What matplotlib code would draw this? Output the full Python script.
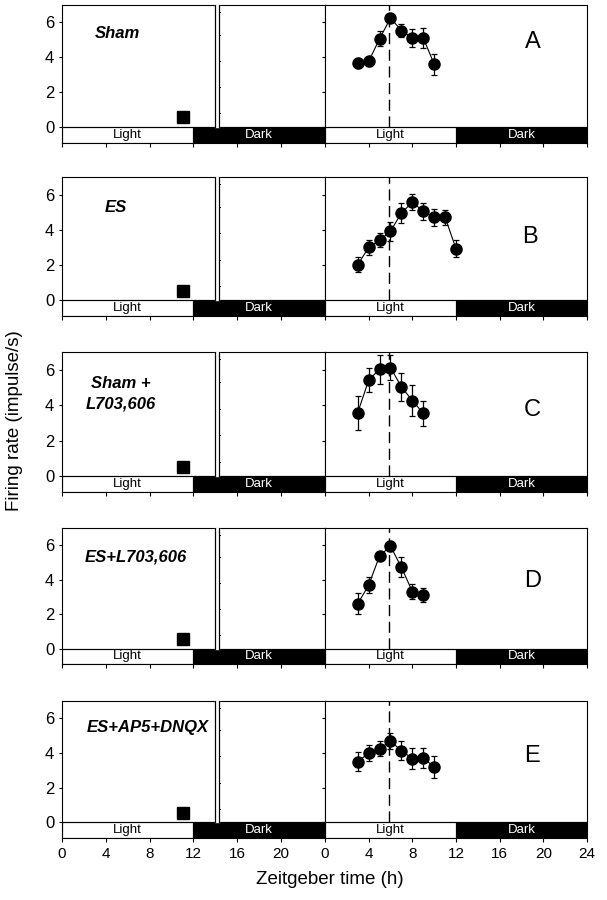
import matplotlib
matplotlib.use("Agg")
import matplotlib.pyplot as plt
from matplotlib.patches import Rectangle

plt.rcParams['font.family'] = ['Liberation Sans', 'DejaVu Sans']

# ---- data ----
panel_letters = ["A", "B", "C", "D", "E"]
treatments = ["Sham", "ES", "Sham +\nL703,606", "ES+L703,606", "ES+AP5+DNQX"]

hours_A = [3, 4, 5, 6, 7, 8, 9, 10]
rate_A = [3.68, 3.77, 5.07, 6.25, 5.54, 5.11, 5.11, 3.62]
err_A = [0.26, 0.26, 0.43, 0.2, 0.38, 0.54, 0.6, 0.6]

hours_B = [3, 4, 5, 6, 7, 8, 9, 10, 11, 12]
rate_B = [2.01, 3.0, 3.41, 3.91, 4.96, 5.56, 5.06, 4.71, 4.71, 2.93]
err_B = [0.43, 0.41, 0.39, 0.53, 0.56, 0.46, 0.48, 0.48, 0.44, 0.5]

hours_C = [3, 4, 5, 6, 7, 8, 9]
rate_C = [3.58, 5.41, 6.03, 6.12, 5.03, 4.26, 3.54]
err_C = [0.96, 0.69, 0.81, 0.71, 0.77, 0.86, 0.72]

hours_D = [3, 4, 5, 6, 7, 8, 9]
rate_D = [2.6, 3.68, 5.38, 5.95, 4.71, 3.31, 3.1]
err_D = [0.6, 0.46, 0.2, 0.29, 0.58, 0.45, 0.41]

hours_E = [3, 4, 5, 6, 7, 8, 9, 10]
rate_E = [3.5, 4.0, 4.25, 4.68, 4.14, 3.68, 3.73, 3.18]
err_E = [0.54, 0.48, 0.45, 0.46, 0.55, 0.61, 0.58, 0.64]

stim_time = 11.0          # square marker on day 1
stim_value = [0.6, 0.53, 0.51, 0.57, 0.52]
dash_time = 5.85          # vertical dashed line on day 2

left_ticks = [0, 4, 8, 12, 16, 20]
right_ticks = [0, 4, 8, 12, 16, 20, 24]
y_ticks = [0, 2, 4, 6]

series = [(hours_A, rate_A, err_A), (hours_B, rate_B, err_B), (hours_C, rate_C, err_C),
          (hours_D, rate_D, err_D), (hours_E, rate_E, err_E)]

# ---- layout ----
fig = plt.figure(figsize=(6.07, 9.0), dpi=100)
W, H = 607.0, 900.0
row_px = [(5, 143), (177, 316), (352, 492), (528, 664), (701, 838)]
lx0, lx1, rx1 = 62, 325, 587
ymin, ymax = -0.9, 7.0

label_pos = [(5.1, 5.35), (4.95, 5.27), (5.4, 4.64), (6.7, 5.32), (7.8, 5.49)]
letter_pos = [(19.0, 4.9), (18.8, 3.6), (19.0, 3.7), (19.0, 3.9), (19.0, 3.8)]


def light_dark(ax):
    ax.add_patch(Rectangle((0, ymin), 12, -ymin, facecolor='white', edgecolor='black',
                           linewidth=0.8, zorder=2))
    ax.add_patch(Rectangle((12, ymin), 12, -ymin, facecolor='black', edgecolor='black',
                           linewidth=0.8, zorder=2))
    ax.text(6, ymin / 2, "Light", ha='center', va='center', fontsize=9.5, color='black', zorder=3)
    ax.text(18, ymin / 2, "Dark", ha='center', va='center', fontsize=9.5, color='white', zorder=3)
    ax.axhline(0, color='black', linewidth=0.8, zorder=2)


for i, (top, bot) in enumerate(row_px):
    b = 1 - bot / H
    h = (bot - top) / H
    axL = fig.add_axes([lx0 / W, b, (lx1 - lx0) / W, h])
    axR = fig.add_axes([lx1 / W, b, (rx1 - lx1) / W, h])
    for ax in (axL, axR):
        ax.set_xlim(0, 24)
        ax.set_ylim(ymin, ymax)
        for s in ax.spines.values():
            s.set_linewidth(0.8)
        light_dark(ax)
        ax.tick_params(axis='x', direction='out', length=3, width=0.8, labelsize=11)
        ax.tick_params(axis='y', direction='out', length=2.5, width=0.8, labelsize=12, pad=3)
        ax.set_yticks(y_ticks)
    axL.set_xticks(left_ticks)
    axR.set_xticks(right_ticks)
    axR.set_yticklabels([])
    if i < 4:
        axL.set_xticklabels([])
        axR.set_xticklabels([])

    # axis break on day 1 (above the light/dark bar)
    axL.fill_betweenx([0, ymax], 13.95, 14.3, color='white', zorder=4)
    axL.plot([13.95, 13.95], [0, ymax], color='black', lw=0.9, zorder=5)
    axL.plot([14.3, 14.3], [0, ymax], color='black', lw=0.9, zorder=5)
    for yt in [0.8, 2.3, 3.8, 5.3, 6.6]:
        axL.plot([14.3, 14.45], [yt, yt], color='black', lw=0.7, zorder=5)

    # stimulus marker
    axL.plot([stim_time], [stim_value[i]], marker='s', color='black', markersize=8, zorder=5)

    # treatment label
    axL.text(label_pos[i][0], label_pos[i][1], treatments[i], ha='center', va='center',
             fontsize=12, fontweight='bold', fontstyle='italic', linespacing=1.4)

    # dashed line
    axR.plot([dash_time, dash_time], [0, ymax], color='black', lw=1.0,
             dashes=(8, 4), zorder=3)

    hx, ry, er = series[i]
    axR.errorbar(hx, ry, yerr=er, fmt='-o', color='black', ecolor='black',
                 markersize=8, linewidth=0.8, elinewidth=0.9, capsize=2.5,
                 capthick=0.9, zorder=6)
    axR.text(letter_pos[i][0], letter_pos[i][1], panel_letters[i], ha='center',
             va='center', fontsize=17)

fig.text(15 / W, 1 - 421 / H, "Firing rate (impulse/s)", rotation=90, ha='center',
         va='center', fontsize=13.5)
fig.text(330 / W, 1 - 880 / H, "Zeitgeber time (h)", ha='center', va='center', fontsize=13.5)

fig.savefig("out.png", dpi=100)
